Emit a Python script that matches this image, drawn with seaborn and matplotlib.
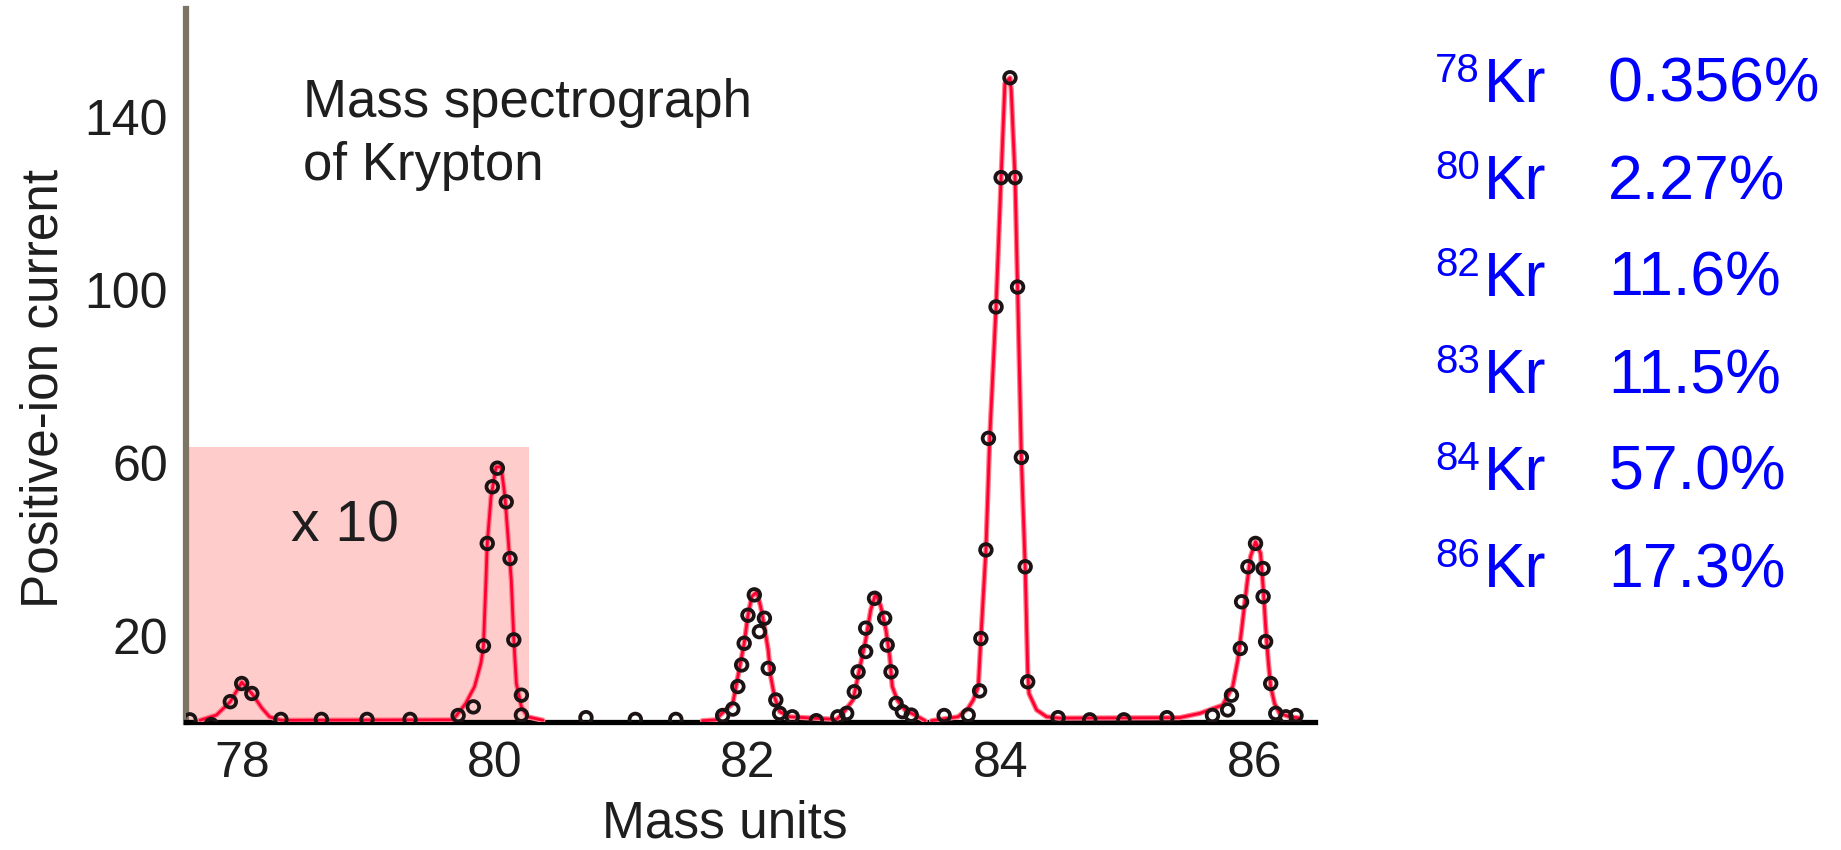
import matplotlib
matplotlib.use("Agg")
import matplotlib.pyplot as plt
from matplotlib.patches import Rectangle
import seaborn as sns

# ---------------- data ----------------
# measured points (mass units, positive-ion current)
mass_pts = [77.59, 77.76, 77.91, 78.00, 78.08, 78.31, 78.63, 78.99, 79.33, 79.71,
            79.83, 79.91, 79.94, 79.98, 80.02, 80.09, 80.12, 80.15, 80.21, 80.21,
            80.72, 81.11, 81.43, 81.80, 81.88, 81.92, 81.95, 81.97, 82.00, 82.05,
            82.09, 82.13, 82.16, 82.22, 82.25, 82.35, 82.54, 82.71, 82.78, 82.84,
            82.87, 82.93, 82.93, 83.00, 83.08, 83.10, 83.13, 83.17, 83.22, 83.29,
            83.55, 83.74, 83.83, 83.84, 83.88, 83.90, 83.96, 84.00, 84.07, 84.11,
            84.13, 84.16, 84.19, 84.21, 84.45, 84.70, 84.97, 85.31, 85.67, 85.79,
            85.82, 85.89, 85.90, 85.95, 86.01, 86.07, 86.07, 86.09, 86.13, 86.17,
            86.25, 86.33]
current_pts = [0.5, -0.6, 4.7, 8.9, 6.6, 0.6, 0.6, 0.6, 0.6, 1.5,
               3.5, 17.6, 41.3, 54.4, 58.7, 50.9, 37.8, 19.0, 6.2, 1.6,
               1.0, 0.6, 0.6, 1.5, 3.0, 8.2, 13.2, 18.2, 24.7, 29.4,
               20.9, 24.0, 12.4, 5.1, 2.0, 1.2, 0.3, 1.2, 2.0, 7.0,
               11.6, 16.3, 21.7, 28.6, 24.0, 17.8, 11.6, 4.3, 2.4, 1.6,
               1.5, 1.6, 7.2, 19.3, 39.8, 65.6, 96.0, 125.9, 149.0, 125.9,
               100.6, 61.2, 35.9, 9.3, 1.0, 0.5, 0.5, 1.0, 1.5, 2.8,
               6.2, 17.0, 27.8, 35.9, 41.3, 35.5, 29.0, 18.6, 8.9, 2.0,
               1.2, 1.5]

# fitted curve, segment 1 (78 and 80, shown x10)
curve1_mass = [77.67, 77.80, 77.91, 78.00, 78.08, 78.16, 78.22, 78.31, 79.67, 79.77,
               79.84, 79.89, 79.91, 79.93, 79.94, 79.97, 80.01, 80.05, 80.08, 80.10,
               80.13, 80.15, 80.17, 80.21, 80.26, 80.38]
curve1_current = [0.4, 1.6, 4.7, 9.2, 6.6, 3.2, 1.2, 0.4, 0.5, 4.3,
                  8.2, 13.6, 17.6, 32.8, 41.3, 52.1, 59.0, 59.0, 52.1, 44.4,
                  32.8, 19.0, 8.9, 3.5, 1.2, 0.4]
# fitted curve, segment 2 (82 and 83)
curve2_mass = [81.64, 81.75, 81.78, 81.88, 81.93, 81.97, 82.00, 82.03, 82.07, 82.10,
               82.13, 82.16, 82.18, 82.21, 82.25, 82.33, 82.70, 82.75, 82.83, 82.88,
               82.93, 82.97, 83.01, 83.05, 83.09, 83.12, 83.14, 83.18, 83.24, 83.32,
               83.40]
curve2_current = [0.3, 0.5, 1.6, 4.3, 12.0, 18.2, 24.7, 29.0, 30.1, 26.7,
                  22.0, 16.6, 10.5, 5.8, 2.4, 1.2, 0.6, 2.0, 5.1, 12.0,
                  19.0, 25.9, 29.8, 26.7, 21.3, 15.1, 8.2, 5.1, 2.8, 1.6,
                  0.3]
# fitted curve, segment 3 (84 and 86)
curve3_mass = [83.45, 83.66, 83.74, 83.78, 83.82, 83.84, 83.88, 83.91, 83.96, 84.00,
               84.03, 84.07, 84.08, 84.11, 84.13, 84.16, 84.19, 84.21, 84.22, 84.28,
               84.36, 84.46, 85.41, 85.57, 85.75, 85.83, 85.87, 85.90, 85.94, 85.97,
               86.01, 86.05, 86.07, 86.09, 86.11, 86.13, 86.16, 86.20, 86.28, 86.36]
curve3_current = [0.3, 1.2, 3.2, 5.1, 8.2, 19.3, 39.8, 65.6, 96.0, 125.9,
                  147.7, 149.0, 146.1, 125.9, 100.6, 61.2, 35.9, 12.0, 6.6, 2.8,
                  1.2, 0.9, 1.0, 2.0, 3.9, 8.2, 14.3, 21.3, 31.3, 38.2,
                  41.7, 39.0, 31.3, 22.0, 14.3, 8.2, 4.3, 2.0, 1.2, 0.9]

x_ticks = [78, 80, 82, 84, 86]
y_ticks = [20, 40, 60, 80, 100, 120, 140, 160]
y_ticklabels = ["20", "", "60", "", "100", "", "140", ""]

# x10 magnified region
zoom_x = (77.56, 80.27)
zoom_top = 63.7

isotopes = ["78", "80", "82", "83", "84", "86"]
abundances = ["0.356%", "2.27%", "11.6%", "11.5%", "57.0%", "17.3%"]

# ---------------- figure ----------------
sns.set_style("white")
plt.rcParams["font.family"] = ["Liberation Sans", "DejaVu Sans"]

W, H = 1841, 850
fig = plt.figure(figsize=(W / 100, H / 100), dpi=100)
ax = fig.add_axes([186 / W, 1 - 722 / H, (1315 - 186) / W, (722 - 9) / H])

ax.add_patch(Rectangle((zoom_x[0], 0), zoom_x[1] - zoom_x[0], zoom_top,
                       facecolor="#ffcccc", edgecolor="none", zorder=0.5))

for cx, cy in [(curve1_mass, curve1_current),
               (curve2_mass, curve2_current),
               (curve3_mass, curve3_current)]:
    sns.lineplot(x=cx, y=cy, sort=False, estimator=None, ax=ax,
                 color="#ff7f8c", linewidth=3.8, zorder=3)
    sns.lineplot(x=cx, y=cy, sort=False, estimator=None, ax=ax,
                 color="#ff0033", linewidth=2.0, zorder=3.5)

sns.scatterplot(x=mass_pts, y=current_pts, ax=ax, marker="o", s=70,
                linewidth=2.7, zorder=5, legend=False)
pts = ax.collections[-1]
pts.set_facecolor("none")
pts.set_edgecolor("#1c1414")

ax.set_xlim(77.56, 86.48)
ax.set_ylim(0, 164.9)
ax.set_xticks(x_ticks)
ax.set_xticklabels([str(t) for t in x_ticks])
ax.set_yticks(y_ticks)
ax.set_yticklabels(y_ticklabels)

for s in ["top", "right"]:
    ax.spines[s].set_visible(False)
ax.spines["left"].set_color("#7d7563")
ax.spines["left"].set_linewidth(4.5)
ax.spines["bottom"].set_color("black")
ax.spines["bottom"].set_linewidth(3.8)
ax.spines["left"].set_zorder(2.6)
ax.spines["bottom"].set_zorder(2.6)

ax.tick_params(axis="y", direction="in", length=12, width=5.5, color="#7d7563",
               labelsize=36, labelcolor="#1e1e1e", pad=13)
ax.tick_params(axis="x", direction="in", length=9.5, width=2.4, color="black",
               labelsize=36, labelcolor="#1e1e1e", pad=14)
ax.set_xlabel("")
ax.set_ylabel("")

txt = dict(color="#1e1e1e")
fig.text(725 / W, 1 - 838 / H, "Mass units", ha="center", va="baseline",
         fontsize=37, **txt)
fig.text(44 / W, 1 - 388 / H, "Positive-ion current", ha="center", va="center",
         rotation=90, fontsize=37, **txt)
fig.text(303 / W, 1 - 117 / H, "Mass spectrograph", ha="left", va="baseline",
         fontsize=38, **txt)
fig.text(303 / W, 1 - 180 / H, "of Krypton", ha="left", va="baseline",
         fontsize=38, **txt)
fig.text(291 / W, 1 - 542 / H, "x 10", ha="left", va="baseline",
         fontsize=41, **txt)

blue = "#0000ff"
for i, (iso, ab) in enumerate(zip(isotopes, abundances)):
    base = 102 + 97 * i
    fig.text(1435 / W, 1 - (base - 20) / H, iso, ha="left", va="baseline",
             fontsize=29, color=blue)
    fig.text(1484 / W, 1 - base / H, "Kr", ha="left", va="baseline",
             fontsize=45, color=blue)
    fig.text(1608 / W, 1 - base / H, ab, ha="left", va="baseline",
             fontsize=45, color=blue)

fig.savefig("out.png", dpi=100)
